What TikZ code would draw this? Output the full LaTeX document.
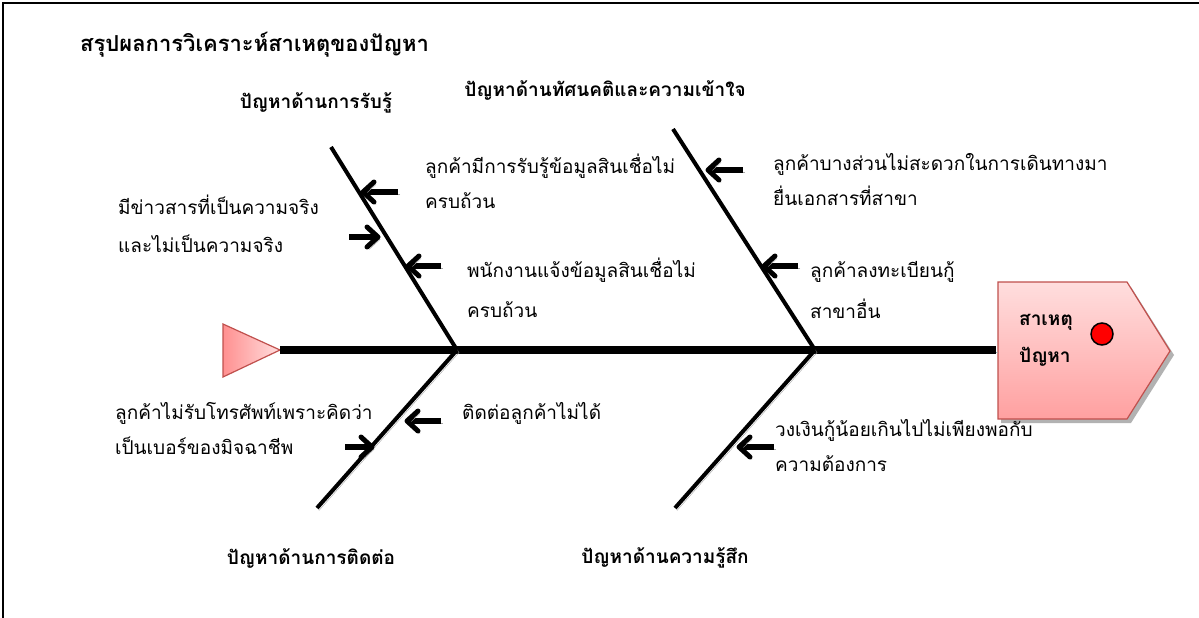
\documentclass[tikz,border=0pt]{standalone}
\usepackage{fontspec}
\setmainfont[Script=Thai]{Loma}
\usetikzlibrary{calc}
\definecolor{pinkline}{RGB}{192,80,77}
\definecolor{pinktop}{RGB}{255,222,222}
\definecolor{pinkbot}{RGB}{255,160,160}
\begin{document}
\begin{tikzpicture}[x=1pt,y=-1pt,
  shadowed/.style={preaction={draw=black!35,transform canvas={shift={(2pt,-2.5pt)}}}},
  spinestyle/.style={line width=8pt,shadowed},
  bonestyle/.style={line width=4pt,line cap=butt,shadowed},
  arrshaft/.style={line width=5.5pt,line cap=butt,shadowed},
  arrhead/.style={line width=5pt,line cap=round,line join=round,shadowed},
  cause/.style={anchor=west,align=left,inner sep=0pt,font=\fontsize{19}{36}\selectfont},
  branch/.style={inner sep=0pt,font=\bfseries\fontsize{19}{22}\selectfont},
  titlestyle/.style={anchor=west,inner sep=0pt,font=\bfseries\fontsize{22}{28}\selectfont}
]
\useasboundingbox (0,0) rectangle (1199,618);
\fill[white] (0,0) rectangle (1199,618);
\draw[line width=1.5pt] (3,618) -- (3,3) -- (1199,3);

\node[titlestyle] (title) at (80,45) {สรุปผลการวิเคราะห์สาเหตุของปัญหา};

% spine points
\coordinate (tailtip) at (280,350);
\coordinate (j1) at (457,350);
\coordinate (j2) at (815,350);
\coordinate (headl) at (996,350);
\coordinate (b1top) at (331,147);
\coordinate (b2top) at (673,129);
\coordinate (b3bot) at (317,508);
\coordinate (b4bot) at (675,508);

% tail
\path[left color=pinkbot!90!red,right color=pinktop,draw=pinkline,line width=1.2pt]
  (223,324) -- (tailtip) -- (223,377) -- cycle;
% head
\fill[black!30] (1001,287) -- (1131,287) -- (1174,355) -- (1131,423) -- (1001,423) -- cycle;
\path[top color=pinktop,bottom color=pinkbot,draw=pinkline,line width=1.2pt]
  (998,282) -- (1127,282) -- (1170,351) -- (1127,419) -- (998,419) -- cycle;
\node[inner sep=0pt,anchor=west,font=\bfseries\fontsize{19}{22}\selectfont] (h1) at (1019,322) {สาเหตุ};
\node[inner sep=0pt,anchor=west,font=\bfseries\fontsize{19}{22}\selectfont] (h2) at (1019,357) {ปัญหา};
\node[circle,fill=red,draw=black,line width=1.5pt,minimum size=22pt,inner sep=0pt] (dot) at (1102,334) {};

% spine and bones
\draw[spinestyle] (tailtip) -- (headl);
\draw[bonestyle] (b1top) -- (j1);
\draw[bonestyle] (b2top) -- (j2);
\draw[bonestyle] (j1) -- (b3bot);
\draw[bonestyle] (j2) -- (b4bot);

% branch labels
\node[branch] (l1) at (316,103) {ปัญหาด้านการรับรู้};
\node[branch] (l2) at (605,90) {ปัญหาด้านทัศนคติและความเข้าใจ};
\node[branch] (l3) at (311,558) {ปัญหาด้านการติดต่อ};
\node[branch] (l4) at (665,558) {ปัญหาด้านความรู้สึก};

% causes
\node[cause] (c1) at (425,181) {ลูกค้ามีการรับรู้ข้อมูลสินเชื่อไม่\\[-1pt]ครบถ้วน};
\node[cause] (c2) at (118,224) {มีข่าวสารที่เป็นความจริง\\[2pt]และไม่เป็นความจริง};
\node[cause] (c3) at (467,288) {พนักงานแจ้งข้อมูลสินเชื่อไม่\\[4pt]ครบถ้วน};
\node[cause] (c4) at (773,180) {ลูกค้าบางส่วนไม่สะดวกในการเดินทางมา\\[-1pt]ยื่นเอกสารที่สาขา};
\node[cause] (c5) at (810,290) {ลูกค้าลงทะเบียนกู้\\[4pt]สาขาอื่น};
\node[cause] (c6) at (462,413) {ติดต่อลูกค้าไม่ได้};
\node[cause] (c7) at (115,428) {ลูกค้าไม่รับโทรศัพท์เพราะคิดว่า\\[-1pt]เป็นเบอร์ของมิจฉาชีพ};
\node[cause] (c8) at (775,446) {วงเงินกู้น้อยเกินไปไม่เพียงพอกับ\\[-1pt]ความต้องการ};

% arrows
\coordinate (a1s) at (398,192); \coordinate (a1t) at (363,192);
\coordinate (a2s) at (349,237); \coordinate (a2t) at (378,237);
\coordinate (a3s) at (441,266); \coordinate (a3t) at (408,266);
\coordinate (a4s) at (743,170); \coordinate (a4t) at (708,170);
\coordinate (a5s) at (798,266); \coordinate (a5t) at (764,266);
\coordinate (a6s) at (441,421); \coordinate (a6t) at (407,421);
\coordinate (a7s) at (345,447); \coordinate (a7t) at (372,447);
\coordinate (a8s) at (774,447); \coordinate (a8t) at (739,447);
\foreach \i/\d in {1/1,2/-1,3/1,4/1,5/1,6/1,7/-1,8/1} {
  \draw[arrshaft] (a\i s) -- (a\i t);
  \draw[arrhead] ($(a\i t)+(\d*11,-10)$) -- (a\i t) -- ($(a\i t)+(\d*11,10)$);
}
\end{tikzpicture}
\end{document}
